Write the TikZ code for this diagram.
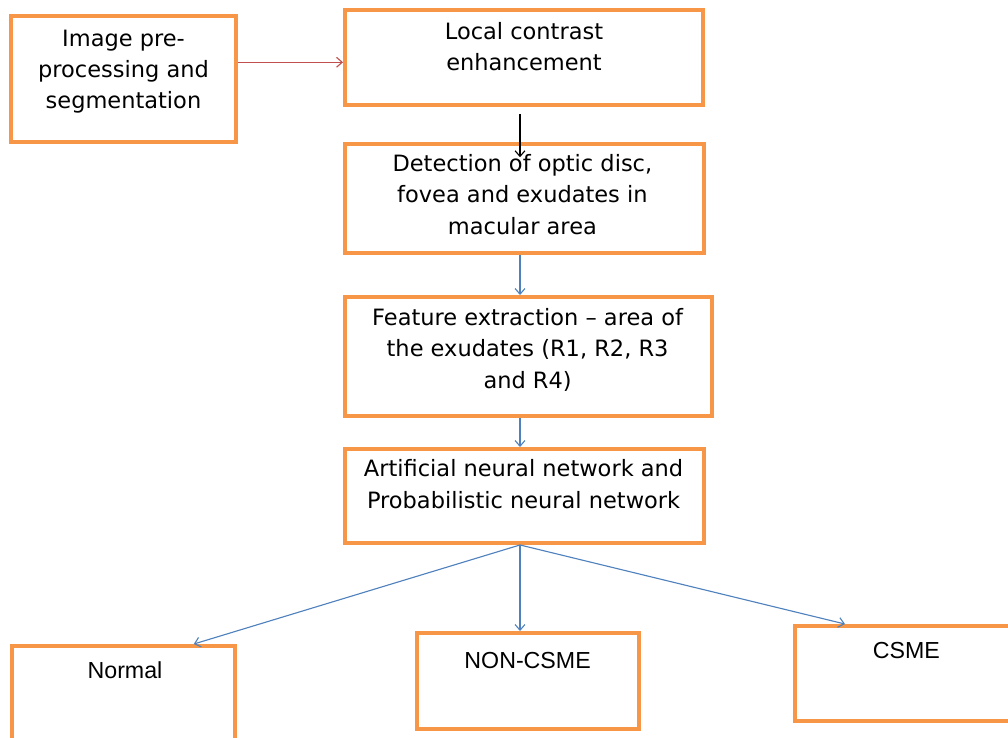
\documentclass[tikz,border=0pt]{standalone}
\usepackage{fontspec}
\setmainfont{DejaVu Sans}
\newfontfamily\classfont{Liberation Sans}
\usepackage{tikz}
\usetikzlibrary{positioning,calc}
\usetikzlibrary{arrows.meta}
\definecolor{StageOrange}{RGB}{247,150,70}
\definecolor{FlowBlue}{RGB}{79,129,189}
\definecolor{FlowRed}{RGB}{192,80,77}
\tikzset{
	stage/.style={draw=StageOrange,line width=2.8pt,fill=white,inner sep=0pt},
	caption/.style={font=\fontsize{16}{22.4}\selectfont,align=center,inner sep=0pt,anchor=base},
	classname/.style={font=\classfont\fontsize{16.5}{20}\selectfont,inner sep=0pt,anchor=base},
	flow/.style={draw=FlowBlue,line width=0.8pt,-{Straight Barb[length=4pt,width=7pt]}},
}
\begin{document}
\begin{tikzpicture}
			\useasboundingbox (0,0) rectangle (25.2,-18.45);
			\coordinate (axis) at (13.0,0);
			% boxes: name/x/y/width/height
			\foreach \n/\x/\y/\w/\h in {pre/3.0875/-1.975/5.625/3.15,lce/13.1/-1.4375/8.95/2.375,
				det/13.1125/-4.9625/8.975/2.725,feat/13.2125/-8.9125/9.175/2.975,
				ann/13.1125/-12.4/8.975/2.35,normal/3.0875/-17.575/5.575/2.85,
				noncsme/13.2/-17.025/5.55/2.4,csme/22.625/-16.8375/5.5/2.375}
			\node[stage,minimum width=\w cm,minimum height=\h cm] (\n) at (\x,\y) {};
			% captions sit on the baseline of their last line
			\node[caption] (pre-t) at (3.0875,-2.725) {Image pre-\\processing and\\segmentation};
			\node[caption] (lce-t) at (13.1,-1.775) {Local contrast\\enhancement};
			\node[caption] (det-t) at (13.06,-5.85) {Detection of optic disc,\\fovea and exudates in\\macular area};
			\node[caption] (feat-t) at (13.19,-9.7) {Feature extraction -- area of\\the exudates (R1, R2, R3\\and R4)};
			\node[caption] (ann-t) at (13.09,-12.7) {Artificial neural network and\\Probabilistic neural network};
			\node[classname] (normal-t) at (3.125,-16.95) {Normal};
			\node[classname] (noncsme-t) at (13.19,-16.7) {NON-CSME};
			\node[classname] (csme-t) at (22.66,-16.45) {CSME};
			\coordinate (entry) at ([yshift=-0.12cm]lce.west);
			\draw[flow,draw=FlowRed] (pre.east |- entry) -- (entry);
			\draw[flow,draw=black] ([yshift=-0.17cm]lce.south -| axis) -- ([yshift=-0.38cm]det.north -| axis);
			\draw[flow] (det.south -| axis) -- (feat.north -| axis);
			\draw[flow] (feat.south -| axis) -- (ann.north -| axis);
			\draw[flow] (ann.south -| axis) -- ([xshift=-1.08cm]normal.north east);
			\draw[flow] (ann.south -| axis) -- (noncsme.north -| axis);
			\draw[flow] (ann.south -| axis) -- ([xshift=1.3cm]csme.north west);
		\end{tikzpicture}
\end{document}
